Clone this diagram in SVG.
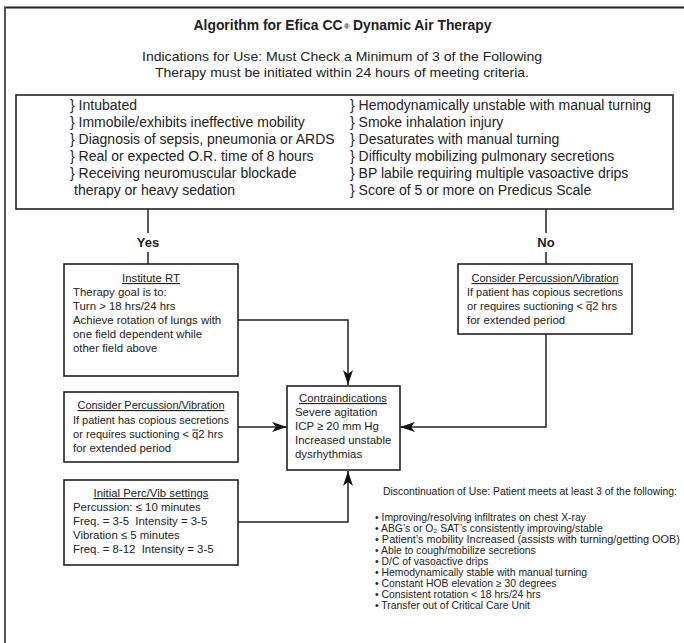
<svg xmlns="http://www.w3.org/2000/svg" width="684" height="643" viewBox="0 0 684 643">
<style>
text{font-family:"Liberation Sans",Arial,sans-serif;fill:#222}
.box{fill:#fff;stroke:#222;stroke-width:1.6}
.t14{font-size:14px}
.t12{font-size:11.4px}
.t10{font-size:10.4px}
.u{text-decoration:underline}
.mid{text-anchor:middle}
.ln{fill:none;stroke:#222;stroke-width:1.5}
.ov{stroke:#222;stroke-width:0.9}
.ttl{font-size:13.9px;font-weight:bold}
</style>
<defs>
<marker id="ah" viewBox="0 0 15 10" refX="15" refY="5" markerWidth="15" markerHeight="10" markerUnits="userSpaceOnUse" orient="auto">
<path d="M0,0 L15,5 L0,10 L4,5 Z" fill="#111"/>
</marker>
</defs>
<rect width="684" height="643" fill="#fff"/>
<g id="frame">
<line x1="4" y1="7.5" x2="684" y2="7.5" stroke="#222" stroke-width="2"/>
<line x1="5" y1="7" x2="5" y2="643" stroke="#555" stroke-width="2"/>
</g>
<g id="title">
<text x="193.5" y="30" class="ttl">Algorithm for Efica CC</text>
<text x="344" y="29" font-size="7.5" font-weight="bold">®</text>
<text x="353" y="30" class="ttl">Dynamic Air Therapy</text>
<text x="342" y="61" class="mid" font-size="13.5" textLength="400" lengthAdjust="spacingAndGlyphs">Indications for Use:  Must Check a Minimum of 3 of the Following</text>
<text x="342" y="77" class="mid" font-size="13.5" textLength="374" lengthAdjust="spacingAndGlyphs">Therapy must be initiated within 24 hours of meeting criteria.</text>
</g>
<g id="connectors">
<line class="ln" x1="148" y1="209" x2="148" y2="233"/>
<line class="ln" x1="148" y1="252" x2="148" y2="264"/>
<line class="ln" x1="546" y1="209" x2="546" y2="233"/>
<line class="ln" x1="546" y1="252" x2="546" y2="264"/>
<polyline class="ln" points="238,320 348,320 348,385" marker-end="url(#ah)"/>
<polyline class="ln" points="546,334 546,427 400,427" marker-end="url(#ah)"/>
<line class="ln" x1="238" y1="427" x2="287" y2="427" marker-end="url(#ah)"/>
<polyline class="ln" points="238,522 348,522 348,471" marker-end="url(#ah)"/>
<text x="148" y="247" class="mid" font-size="13" font-weight="bold">Yes</text>
<text x="546" y="247" class="mid" font-size="13" font-weight="bold">No</text>
</g>
<g id="indications">
<rect class="box" x="16" y="95" width="657" height="114"/>
<text class="t14" x="70" y="110">} Intubated</text>
<text class="t14" x="70" y="127">} Immobile/exhibits ineffective mobility</text>
<text class="t14" x="70" y="144">} Diagnosis of sepsis, pneumonia or ARDS</text>
<text class="t14" x="70" y="161">} Real or expected O.R. time of 8 hours</text>
<text class="t14" x="70" y="178">} Receiving neuromuscular blockade</text>
<text class="t14" x="74" y="195">therapy or heavy sedation</text>
<text class="t14" x="350" y="110">} Hemodynamically unstable with manual turning</text>
<text class="t14" x="350" y="127">} Smoke inhalation injury</text>
<text class="t14" x="350" y="144">} Desaturates with manual turning</text>
<text class="t14" x="350" y="161">} Difficulty mobilizing pulmonary secretions</text>
<text class="t14" x="350" y="178">} BP labile requiring multiple vasoactive drips</text>
<text class="t14" x="350" y="195">} Score of 5 or more on Predicus Scale</text>
</g>
<g id="institute-rt">
<rect class="box" x="64" y="264" width="174" height="112"/>
<text class="t12 u mid" x="151" y="282">Institute RT</text>
<text class="t12" x="73" y="296">Therapy goal is to:</text>
<text class="t12" x="73" y="310">Turn &gt; 18 hrs/24 hrs</text>
<text class="t12" x="73" y="324">Achieve rotation of lungs with</text>
<text class="t12" x="73" y="338">one field dependent while</text>
<text class="t12" x="73" y="352">other field above</text>
</g>
<g id="consider-right">
<rect class="box" x="458" y="264" width="174" height="70"/>
<text class="t12 u mid" x="545" y="282" textLength="147" lengthAdjust="spacingAndGlyphs">Consider Percussion/Vibration</text>
<text class="t12" x="467" y="296" textLength="156" lengthAdjust="spacingAndGlyphs">If patient has copious secretions</text>
<text class="t12" x="467" y="310" textLength="150" lengthAdjust="spacingAndGlyphs">or requires suctioning &lt; q2 hrs</text>
<line class="ov" x1="586.2" y1="302" x2="592.4" y2="302"/>
<text class="t12" x="467" y="324">for extended period</text>
</g>
<g id="consider-left">
<rect class="box" x="64" y="392" width="174" height="70"/>
<text class="t12 u mid" x="151" y="409" textLength="147" lengthAdjust="spacingAndGlyphs">Consider Percussion/Vibration</text>
<text class="t12" x="73" y="424" textLength="156" lengthAdjust="spacingAndGlyphs">If patient has copious secretions</text>
<text class="t12" x="73" y="438" textLength="150" lengthAdjust="spacingAndGlyphs">or requires suctioning &lt; q2 hrs</text>
<line class="ov" x1="192.2" y1="430" x2="198.4" y2="430"/>
<text class="t12" x="73" y="452">for extended period</text>
</g>
<g id="contraindications">
<rect class="box" x="287" y="386" width="113" height="84"/>
<text class="t12 u mid" x="343" y="402">Contraindications</text>
<text class="t12" x="295" y="416">Severe agitation</text>
<text class="t12" x="295" y="430">ICP ≥ 20 mm Hg</text>
<text class="t12" x="295" y="444">Increased unstable</text>
<text class="t12" x="295" y="458">dysrhythmias</text>
</g>
<g id="initial-settings">
<rect class="box" x="64" y="480" width="174" height="85"/>
<text class="t12 u mid" x="151" y="497">Initial Perc/Vib settings</text>
<text class="t12" x="73" y="511">Percussion: ≤ 10 minutes</text>
<text class="t12" x="73" y="525" xml:space="preserve">Freq. = 3-5  Intensity = 3-5</text>
<text class="t12" x="73" y="539">Vibration ≤ 5 minutes</text>
<text class="t12" x="73" y="553" xml:space="preserve">Freq. = 8-12  Intensity = 3-5</text>
</g>
<g id="discontinuation">
<text class="t10" x="383" y="495" textLength="294" lengthAdjust="spacingAndGlyphs">Discontinuation of Use: Patient meets at least 3 of the following:</text>
<text class="t10" x="375" y="521">• Improving/resolving infiltrates on chest X-ray</text>
<text class="t10" x="375" y="532">• ABG’s or O₂ SAT’s consistently improving/stable</text>
<text class="t10" x="375" y="543" textLength="305" lengthAdjust="spacingAndGlyphs">• Patient’s mobility Increased (assists with turning/getting OOB)</text>
<text class="t10" x="375" y="554">• Able to cough/mobilize secretions</text>
<text class="t10" x="375" y="565">• D/C of vasoactive drips</text>
<text class="t10" x="375" y="576">• Hemodynamically stable with manual turning</text>
<text class="t10" x="375" y="587">• Constant HOB elevation ≥ 30 degrees</text>
<text class="t10" x="375" y="598">• Consistent rotation &lt; 18 hrs/24 hrs</text>
<text class="t10" x="375" y="609">• Transfer out of Critical Care Unit</text>
</g>
</svg>
